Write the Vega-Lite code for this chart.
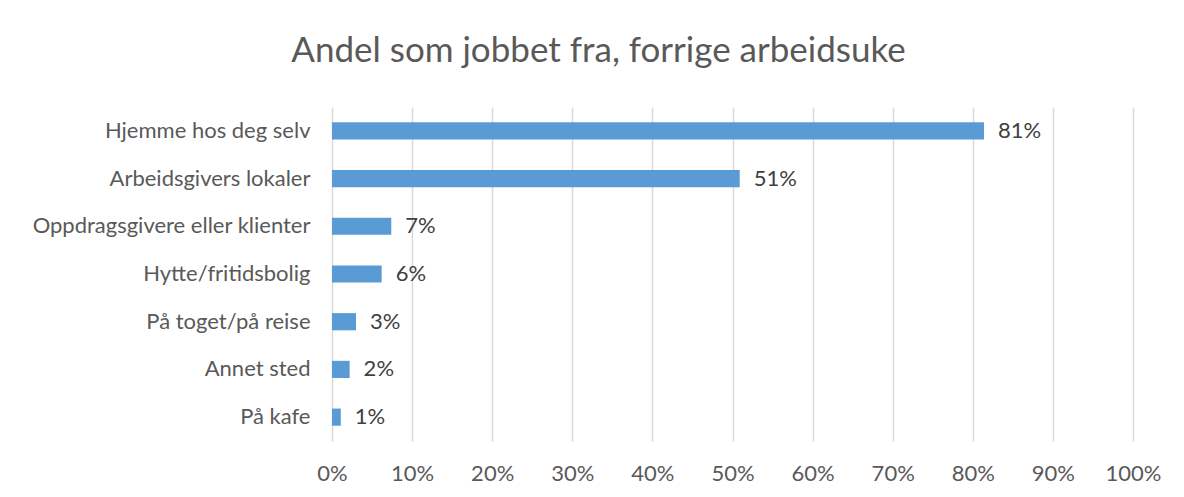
{
  "$schema": "https://vega.github.io/schema/vega-lite/v6.json",
  "autosize": {"type": "none"},
  "width": 801,
  "height": 334,
  "padding": {"left": 332, "top": 107, "right": 51, "bottom": 56},
  "background": "white",
  "title": {
    "text": "Andel som jobbet fra, forrige arbeidsuke",
    "font": "Lato",
    "fontSize": 35,
    "fontWeight": "normal",
    "color": "#595959",
    "anchor": "middle",
    "dx": -134,
    "offset": 38
  },
  "data": {
    "values": [
      {"sted": "Hjemme hos deg selv", "andel": 0.814},
      {"sted": "Arbeidsgivers lokaler", "andel": 0.509},
      {"sted": "Oppdragsgivere eller klienter", "andel": 0.074},
      {"sted": "Hytte/fritidsbolig", "andel": 0.062},
      {"sted": "På toget/på reise", "andel": 0.030},
      {"sted": "Annet sted", "andel": 0.022},
      {"sted": "På kafe", "andel": 0.011}
    ]
  },
  "encoding": {
    "y": {
      "field": "sted",
      "type": "nominal",
      "sort": null,
      "scale": {"paddingInner": 0.64, "paddingOuter": 0.32},
      "axis": {
        "title": null,
        "ticks": false,
        "domain": false,
        "labelPadding": 22,
        "labelFont": "Lato",
        "labelFontSize": 22,
        "labelColor": "#595959",
        "labelLimit": 400
      }
    },
    "x": {
      "field": "andel",
      "type": "quantitative",
      "scale": {"domain": [0, 1], "nice": false},
      "axis": {
        "title": null,
        "format": ".0%",
        "values": [0, 0.1, 0.2, 0.3, 0.4, 0.5, 0.6, 0.7, 0.8, 0.9, 1],
        "ticks": false,
        "domain": false,
        "grid": true,
        "gridColor": "#D9D9D9",
        "gridWidth": 1.5,
        "labelFlush": false,
        "labelOverlap": false,
        "labelPadding": 22,
        "labelFont": "Lato",
        "labelFontSize": 22,
        "labelColor": "#595959"
      }
    }
  },
  "layer": [
    {"mark": {"type": "bar", "color": "#5B9BD5"}},
    {
      "mark": {"type": "text", "align": "left", "dx": 14, "font": "Lato", "fontSize": 22, "color": "#404040"},
      "encoding": {"text": {"field": "andel", "format": ".0%"}}
    }
  ],
  "config": {"view": {"stroke": null}}
}
